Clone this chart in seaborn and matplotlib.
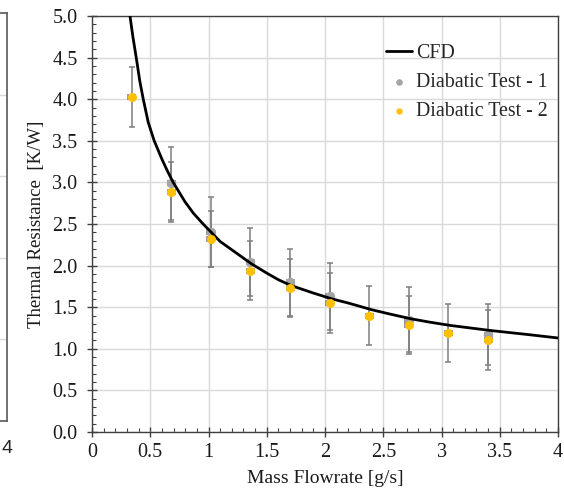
import matplotlib
matplotlib.use('Agg')
import matplotlib.pyplot as plt
import seaborn as sns
import pandas as pd
from matplotlib.ticker import MultipleLocator, FormatStrFormatter, FuncFormatter

sns.set_theme(style='white')
plt.rcParams['font.family'] = ['Liberation Serif', 'DejaVu Serif']

# CFD curve
cfd_flow = [0.326, 0.35, 0.383, 0.41, 0.44, 0.483, 0.534, 0.603, 0.65, 0.697, 0.797, 0.87,
            0.954, 1.10, 1.20, 1.25, 1.37, 1.50, 1.60, 1.71, 1.90, 2.06, 2.20, 2.40, 2.55,
            2.74, 2.90, 3.08, 3.25, 3.42, 3.75, 4.00]
cfd_res = [5.00, 4.76, 4.47, 4.22, 4.00, 3.72, 3.50, 3.27, 3.13, 3.00, 2.77, 2.63,
           2.50, 2.29, 2.19, 2.14, 2.02, 1.91, 1.83, 1.76, 1.67, 1.60, 1.55, 1.47, 1.42,
           1.36, 1.32, 1.28, 1.25, 1.22, 1.17, 1.13]

# Diabatic test 1 (grey)
flow_test1 = [0.68, 1.02, 1.36, 1.70, 2.04, 2.72, 3.40]
res_test1 = [2.99, 2.40, 2.04, 1.80, 1.63, 1.35, 1.17]
err_test1 = [0.44, 0.42, 0.41, 0.40, 0.40, 0.39, 0.37]

# Diabatic test 2 (yellow)
flow_test2 = [0.34, 0.68, 1.02, 1.36, 1.70, 2.04, 2.38, 2.72, 3.06, 3.40]
res_test2 = [4.03, 2.88, 2.32, 1.94, 1.73, 1.55, 1.40, 1.29, 1.19, 1.11]
err_test2 = [0.36, 0.36, 0.34, 0.35, 0.35, 0.36, 0.35, 0.35, 0.35, 0.36]
flow_err = 0.03

GREY = '#A5A5A5'
GOLD = '#FFC000'
BAR = '#7F7F7F'
W, H = 564, 491

fig = plt.figure(figsize=(W / 100, H / 100), dpi=100)

# fragment of the neighbouring chart on the left edge
ax0 = fig.add_axes([6.5 / W - 0.3, 70 / H, 0.3, 408 / H])
ax0.set_xlim(0, 4)
ax0.set_ylim(0, 5)
ax0.set_xticks([4])
ax0.set_xticklabels(['4'], family=['Liberation Sans', 'DejaVu Sans'], fontsize=14)
ax0.set_yticks([1, 2, 3, 4])
ax0.set_yticklabels([])
ax0.tick_params(length=0, pad=14)
ax0.grid(axis='y', color='#D9D9D9', lw=1)
ax0.spines['left'].set_visible(False)
for s in ['right', 'top', 'bottom']:
    ax0.spines[s].set_color('#595959')
    ax0.spines[s].set_linewidth(1.2)

# main chart
ax = fig.add_axes([92 / W, 59 / H, 466 / W, 416 / H])

cfd = pd.DataFrame({'flow': cfd_flow, 'res': cfd_res})
t1 = pd.DataFrame({'flow': flow_test1, 'res': res_test1})
t2 = pd.DataFrame({'flow': flow_test2, 'res': res_test2})

ax.errorbar(flow_test1, res_test1, yerr=err_test1, xerr=flow_err, fmt='none',
            ecolor=BAR, elinewidth=1.1, capsize=2.2, capthick=1.1, zorder=2)
ax.errorbar(flow_test2, res_test2, yerr=err_test2, xerr=flow_err, fmt='none',
            ecolor=BAR, elinewidth=1.1, capsize=2.2, capthick=1.1, zorder=2)
sns.scatterplot(data=t1, x='flow', y='res', ax=ax, color=GREY, s=46, marker='o',
                linewidth=0, label='Diabatic Test - 1', zorder=3)
sns.lineplot(data=cfd, x='flow', y='res', ax=ax, color='black', lw=2,
             label='CFD', zorder=4)
sns.scatterplot(data=t2, x='flow', y='res', ax=ax, color=GOLD, s=42, marker='o',
                linewidth=0, label='Diabatic Test - 2', zorder=5)

ax.set_xlim(0, 4)
ax.set_ylim(0, 5)
ax.xaxis.set_major_locator(MultipleLocator(0.5))
ax.xaxis.set_minor_locator(MultipleLocator(0.1))
ax.yaxis.set_major_locator(MultipleLocator(0.5))
ax.yaxis.set_minor_locator(MultipleLocator(0.1))
ax.xaxis.set_major_formatter(FuncFormatter(lambda v, p: f'{v:g}'))
ax.yaxis.set_major_formatter(FormatStrFormatter('%.1f'))
ax.grid(which='major', color='#D9D9D9', lw=1)
ax.tick_params(which='major', direction='inout', length=7, width=1, color='#404040',
               labelsize=14.5, labelcolor='#1a1a1a', bottom=True, left=True)
ax.tick_params(axis='y', which='major', pad=7)
ax.tick_params(axis='x', which='major', pad=4.5)
ax.tick_params(which='minor', direction='in', length=3, width=0.8, color='#404040',
               bottom=True, left=True)
for s in ax.spines.values():
    s.set_color('#404040')
    s.set_linewidth(1)

ax.set_xlabel('Mass Flowrate [g/s]', fontsize=14, color='#1a1a1a', labelpad=6)
ax.set_ylabel('Thermal Resistance  [K/W]', fontsize=13.5, color='#1a1a1a', labelpad=5)

h, l = ax.get_legend_handles_labels()
order = [l.index('CFD'), l.index('Diabatic Test - 1'), l.index('Diabatic Test - 2')]
ax.legend([h[i] for i in order], [l[i] for i in order], loc='upper left',
          bbox_to_anchor=(386 / W, 1 - 44 / H), bbox_transform=fig.transFigure,
          frameon=False, fontsize=14.3, borderpad=0, borderaxespad=0,
          handlelength=1.3, handletextpad=0.2, labelspacing=0.5, markerscale=0.7)

fig.savefig('out.png', dpi=100)
